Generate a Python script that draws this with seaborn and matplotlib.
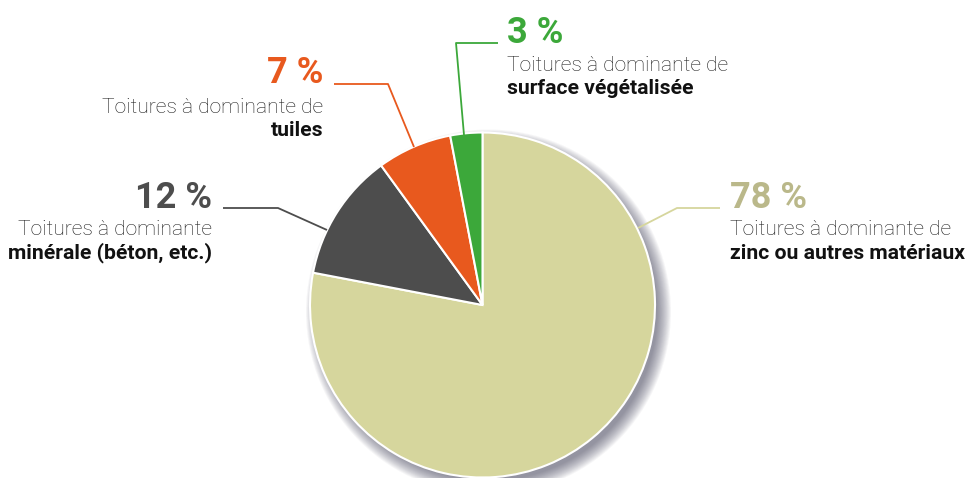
import matplotlib
matplotlib.use("Agg")
import matplotlib.pyplot as plt
from matplotlib.patches import Circle
import seaborn as sns

sns.set_theme(style="white")
plt.rcParams['font.family'] = ['Roboto', 'DejaVu Sans']

categories = ["zinc ou autres matériaux", "minérale (béton, etc.)", "tuiles", "surface végétalisée"]
prefixes = ["Toitures à dominante de", "Toitures à dominante", "Toitures à dominante de", "Toitures à dominante de"]
values = [78, 12, 7, 3]
pct_labels = ["78 %", "12 %", "7 %", "3 %"]
colors = ["#D6D69D", "#4D4D4D", "#E8591E", "#3CA83A"]
pct_colors = ["#BAB88A", "#4D4D4D", "#E8591E", "#3CA83A"]

W, H = 967, 478
fig = plt.figure(figsize=(W / 100, H / 100), dpi=100)
ax = fig.add_axes([0, 0, 1, 1])

cx, cy, r = 482.5, H - 305, 172.5

# soft drop shadow
for i in range(16):
    ax.add_patch(Circle((cx + 6, cy - 7), r + 10 - i * 0.9, color="#3A3550",
                        alpha=0.045, lw=0, zorder=1))

ax.pie(values, colors=colors, startangle=90, counterclock=False,
       center=(cx, cy), radius=r, frame=True,
       wedgeprops=dict(edgecolor="white", linewidth=1.5, zorder=3))
ax.set_xlim(0, W)
ax.set_ylim(0, H)
ax.set_aspect('equal')
ax.axis('off')

def Y(p):
    return H - p

# leader lines (pixel coordinates of the reference)
leaders = [
    [(638, 228), (677, 208), (720, 208)],
    [(327, 230), (278, 208), (223, 208)],
    [(414, 147), (388, 84), (334, 84)],
    [(464, 135), (456, 43), (498, 43)],
]
for pts, c in zip(leaders, colors):
    xs = [p[0] for p in pts]
    ys = [Y(p[1]) for p in pts]
    ax.plot(xs, ys, color=c, lw=1.3, zorder=4, solid_capstyle='butt')

# label blocks: x, ha, baselines of pct, line1, line2
blocks = [
    (730, 'left', 208, 235, 259),
    (212, 'right', 208, 235, 258),
    (323, 'right', 83, 113, 136),
    (507, 'left', 43, 71, 94),
]
for (x, ha, b0, b1, b2), pl, pc, pre, cat in zip(blocks, pct_labels, pct_colors, prefixes, categories):
    ax.text(x, Y(b0), pl, ha=ha, va='baseline', fontsize=26, fontweight='bold', color=pc)
    ax.text(x, Y(b1), pre, ha=ha, va='baseline', fontsize=15.2, fontweight='light', color="#1E1E1E")
    ax.text(x, Y(b2), cat, ha=ha, va='baseline', fontsize=15.2, fontweight='bold', color="#111111")

fig.savefig("out.png", dpi=100, facecolor="white")
